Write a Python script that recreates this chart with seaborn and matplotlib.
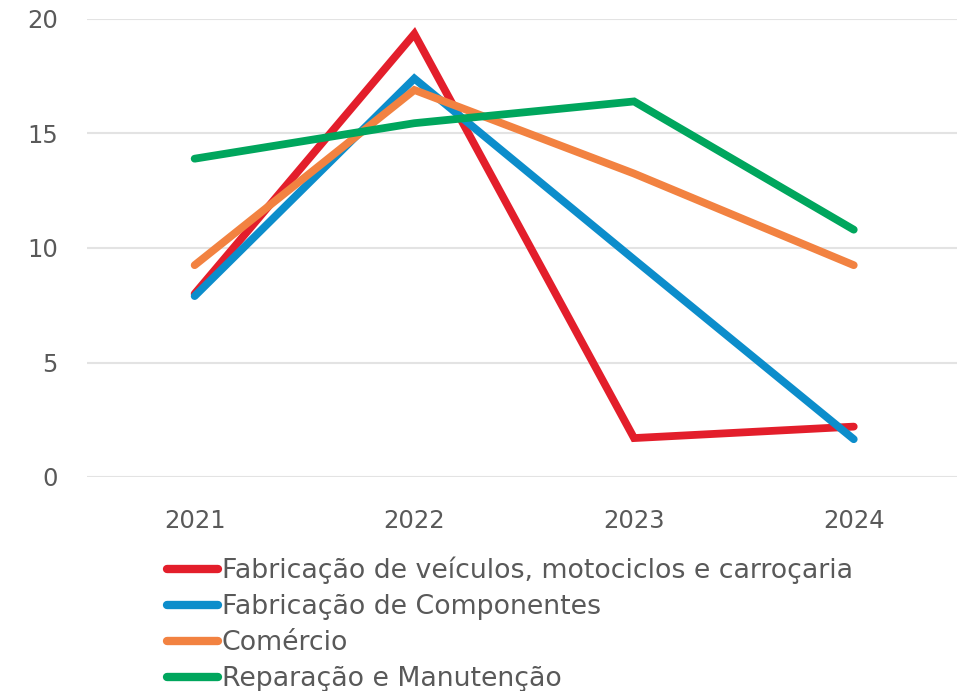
import matplotlib
matplotlib.use("Agg")
import matplotlib.pyplot as plt
import seaborn as sns
import pandas as pd
from matplotlib.lines import Line2D

years = ["2021", "2022", "2023", "2024"]
series_names = [
    "Fabricação de veículos, motociclos e carroçaria",
    "Fabricação de Componentes",
    "Comércio",
    "Reparação e Manutenção",
]
veiculos = [8.0, 19.35, 1.7, 2.2]
componentes = [7.9, 17.4, 9.5, 1.65]
comercio = [9.25, 16.9, 13.25, 9.25]
reparacao = [13.9, 15.45, 16.4, 10.8]
colors = ["#E31E2B", "#0C8DCB", "#F28241", "#00A65D"]
yticks = [0, 5, 10, 15, 20]

rows = []
for name, vals in zip(series_names, [veiculos, componentes, comercio, reparacao]):
    for i, (y, v) in enumerate(zip(years, vals)):
        rows.append({"pos": i, "year": y, "value": v, "serie": name})
df = pd.DataFrame(rows)

sns.set_theme(style="white")
plt.rcParams["font.family"] = ["DejaVu Sans"]
text_color = "#595959"

fig = plt.figure(figsize=(9.57, 6.91), dpi=100)
ax = fig.add_axes([87 / 957, 1 - 477 / 691, 1 - 87 / 957, (477 - 19) / 691])

sns.lineplot(data=df, x="pos", y="value", hue="serie", hue_order=series_names,
             palette=colors, linewidth=5.6, ax=ax, legend=False,
             solid_capstyle="round", solid_joinstyle="miter")

ax.set_xlim(-0.49, 3.47)
ax.set_ylim(0, 20)
ax.set_yticks(yticks)
ax.set_yticklabels([str(t) for t in yticks])
ax.set_xticks(range(len(years)))
ax.set_xticklabels(years)
ax.grid(axis="y", color="#E3E3E3", linewidth=1.5)
ax.grid(axis="x", visible=False)
ax.set_axisbelow(True)
for s in ax.spines.values():
    s.set_visible(False)
ax.set_xlabel("")
ax.set_ylabel("")
ax.tick_params(axis="both", length=0, labelsize=17.5, colors=text_color)
ax.tick_params(axis="y", pad=21)
ax.tick_params(axis="x", pad=23)

handles = [Line2D([0], [0], color=c, linewidth=6, solid_capstyle="round") for c in colors]
leg = fig.legend(handles, series_names, loc="upper left",
                 bbox_to_anchor=(167 / 957, 1 - 557 / 691), frameon=False,
                 fontsize=19.3, handlelength=1.9, handletextpad=0.15,
                 labelspacing=0.37, borderaxespad=0, borderpad=0)
for t in leg.get_texts():
    t.set_color(text_color)

fig.savefig("out.png", dpi=100)
